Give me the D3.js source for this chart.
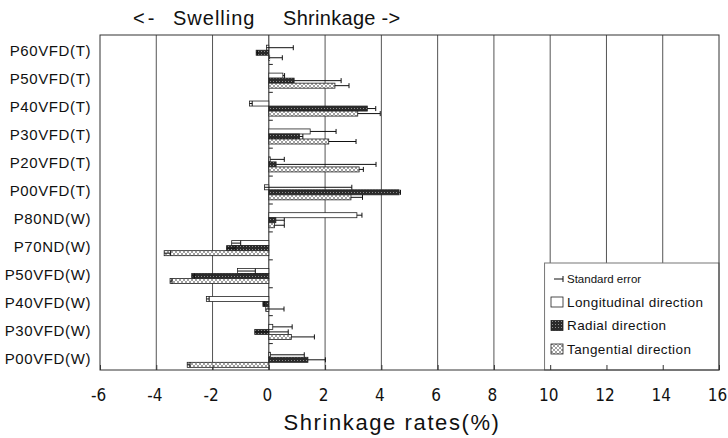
<!DOCTYPE html>
<html>
<head>
<meta charset="utf-8">
<script src="https://cdn.jsdelivr.net/npm/d3@7"></script>
<style>
  body { margin: 0; background: #fff; }
  text { font-family: "Liberation Sans", Arial, sans-serif; fill: #111; }
</style>
</head>
<body>
<div id="chart"></div>
<script>
// data
var categories = ["P60VFD(T)", "P50VFD(T)", "P40VFD(T)", "P30VFD(T)", "P20VFD(T)", "P00VFD(T)",
                  "P80ND(W)", "P70ND(W)", "P50VFD(W)", "P40VFD(W)", "P30VFD(W)", "P00VFD(W)"];
var longitudinal   = [-0.08, 0.50, -0.69, 1.47, 0.05, -0.15, 3.13, -1.32, -1.11, -2.22, 0.14, 0.06];
var longitudinalSE = [0.95, 0.06, 0.10, 0.92, 0.50, 3.10, 0.18, 0.32, 0.63, 0.10, 0.69, 1.20];
var radial         = [-0.45, 0.90, 3.50, 1.09, 0.26, 4.63, 0.25, -1.50, -2.74, -0.21, -0.50, 1.39];
var radialSE       = [0.05, 1.67, 0.30, 0.12, 3.55, 0.05, 0.30, 0.30, 0.10, 0.05, 1.19, 0.62];
var tangential     = [0.03, 2.35, 3.16, 2.13, 3.21, 2.92, 0.20, -3.72, -3.51, -0.11, 0.80, -2.90];
var tangentialSE   = [0.45, 0.50, 0.80, 0.97, 0.15, 0.41, 0.35, 0.23, 0.07, 0.65, 0.82, 0.10];
var xTicks = [-6, -4, -2, 0, 2, 4, 6, 8, 10, 12, 14, 16];
var seriesNames = ["Longitudinal direction", "Radial direction", "Tangential direction"];

var width = 728, height = 438;
var plotLeft = 100, plotRight = 719, plotTop = 35, plotBottom = 370;

var svg = d3.select("#chart").append("svg")
    .attr("width", width)
    .attr("height", height);

// fill patterns for the bars
var defs = svg.append("defs");
var pr = defs.append("pattern").attr("id", "radial")
    .attr("width", 3).attr("height", 3).attr("patternUnits", "userSpaceOnUse");
pr.append("rect").attr("width", 3).attr("height", 3).attr("fill", "#2a2a2a");
pr.append("rect").attr("width", 1).attr("height", 1).attr("fill", "#8c8c8c");
var pt = defs.append("pattern").attr("id", "tangential")
    .attr("width", 4).attr("height", 4).attr("patternUnits", "userSpaceOnUse");
pt.append("rect").attr("width", 4).attr("height", 4).attr("fill", "#fff");
pt.append("path").attr("d", "M0,4 L4,0 M0,0 L4,4").attr("stroke", "#8a8a8a").attr("stroke-width", 0.8);

var fills = ["#fff", "url(#radial)", "url(#tangential)"];

// scales
var x = d3.scaleLinear().domain([-6, 16]).range([plotLeft, plotRight]);
var y = d3.scaleBand().domain(categories).range([plotTop, plotBottom]).padding(0);
var bw = y.bandwidth();
var inner = d3.scaleBand().domain(seriesNames).range([bw * 0.365, bw * 0.905]);

var rows = [];
categories.forEach(function(c, i) {
  rows.push({cat: c, s: seriesNames[0], v: longitudinal[i], se: longitudinalSE[i], f: fills[0]});
  rows.push({cat: c, s: seriesNames[1], v: radial[i], se: radialSE[i], f: fills[1]});
  rows.push({cat: c, s: seriesNames[2], v: tangential[i], se: tangentialSE[i], f: fills[2]});
});

// vertical grid lines (stop above the legend on the right)
var legendX = x(9.8), legendTop = 263;
svg.append("g").selectAll("line")
  .data(xTicks.filter(function(t) { return t > -6 && t < 16; }))
  .enter().append("line")
    .attr("x1", function(d) { return x(d); })
    .attr("x2", function(d) { return x(d); })
    .attr("y1", plotTop)
    .attr("y2", function(d) { return x(d) > legendX ? legendTop : plotBottom; })
    .attr("stroke", function(d) { return d === 0 ? "#222" : "#555"; })
    .attr("stroke-width", 1);

// bars
svg.append("g").selectAll("rect")
  .data(rows)
  .enter().append("rect")
    .attr("x", function(d) { return x(Math.min(0, d.v)); })
    .attr("y", function(d) { return y(d.cat) + inner(d.s); })
    .attr("width", function(d) { return Math.abs(x(d.v) - x(0)); })
    .attr("height", inner.bandwidth())
    .attr("fill", function(d) { return d.f; })
    .attr("stroke", "#222")
    .attr("stroke-width", 0.8);

// error bars, plus direction
var eb = svg.append("g").attr("stroke", "#111").attr("stroke-width", 1);
eb.selectAll(".eline").data(rows).enter().append("line")
    .attr("x1", function(d) { return x(d.v); })
    .attr("x2", function(d) { return x(d.v + d.se); })
    .attr("y1", function(d) { return y(d.cat) + inner(d.s) + inner.bandwidth() / 2; })
    .attr("y2", function(d) { return y(d.cat) + inner(d.s) + inner.bandwidth() / 2; });
eb.selectAll(".ecap").data(rows).enter().append("line")
    .attr("x1", function(d) { return x(d.v + d.se); })
    .attr("x2", function(d) { return x(d.v + d.se); })
    .attr("y1", function(d) { return y(d.cat) + inner(d.s); })
    .attr("y2", function(d) { return y(d.cat) + inner(d.s) + inner.bandwidth(); });

// small zero marks at the top of each group
svg.append("g").selectAll("line")
  .data(categories.slice(1))
  .enter().append("line")
    .attr("x1", x(0)).attr("x2", x(0) + 4)
    .attr("y1", function(d) { return y(d) + 1.5; })
    .attr("y2", function(d) { return y(d) + 1.5; })
    .attr("stroke", "#222");

// legend
var lg = svg.append("g");
lg.append("rect")
    .attr("x", legendX).attr("y", legendTop)
    .attr("width", plotRight - legendX).attr("height", plotBottom - legendTop)
    .attr("fill", "#fff").attr("stroke", "#777").attr("stroke-width", 1);
lg.append("line").attr("x1", 554).attr("x2", 563).attr("y1", 279).attr("y2", 279).attr("stroke", "#111");
lg.append("line").attr("x1", 563).attr("x2", 563).attr("y1", 276).attr("y2", 282).attr("stroke", "#111");
lg.append("text").attr("x", 567).attr("y", 283).style("font-size", "11.5px").text("Standard error");
seriesNames.forEach(function(s, i) {
  var yy = 297 + i * 23.5;
  lg.append("rect").attr("x", 551).attr("y", yy).attr("width", 12).attr("height", 10)
    .attr("fill", fills[i]).attr("stroke", "#222").attr("stroke-width", 0.8);
  lg.append("text").attr("x", 567).attr("y", yy + 9.5)
    .style("font-size", "13.5px").style("letter-spacing", "0.4px").text(s);
});

// plot border
svg.append("rect")
    .attr("x", plotLeft).attr("y", plotTop)
    .attr("width", plotRight - plotLeft).attr("height", plotBottom - plotTop)
    .attr("fill", "none").attr("stroke", "#333").attr("stroke-width", 1);

// x axis: inward ticks
var xAxis = d3.axisBottom(x).tickValues(xTicks).tickSizeInner(-5).tickSizeOuter(0)
    .tickFormat(function(d) { return d; });
var gx = svg.append("g").attr("transform", "translate(0," + plotBottom + ")").call(xAxis);
gx.select(".domain").remove();
gx.selectAll("line").attr("stroke", "#333");
gx.selectAll("text")
    .attr("y", 19).attr("dx", -2)
    .style("font-size", "17px")
    .style("font-family", "'Liberation Sans Narrow', 'DejaVu Sans Condensed', sans-serif")
    .attr("fill", "#111");

// category labels
svg.append("g").selectAll("text")
  .data(categories)
  .enter().append("text")
    .attr("x", 91)
    .attr("y", function(d) { return y(d) + bw / 2 + 7.5; })
    .attr("text-anchor", "end")
    .style("font-size", "15px")
    .style("letter-spacing", "0.6px")
    .text(function(d) { return d; });

// titles
svg.append("text").attr("x", 133).attr("y", 25).style("font-size", "20px").style("letter-spacing", "3px").text("<-");
svg.append("text").attr("x", 173).attr("y", 25).style("font-size", "20px").style("letter-spacing", "1px").text("Swelling");
svg.append("text").attr("x", 283).attr("y", 25).style("font-size", "20px").style("letter-spacing", "0.3px").text("Shrinkage ->");

svg.append("text")
    .attr("x", 392).attr("y", 430)
    .attr("text-anchor", "middle")
    .style("font-size", "22px")
    .style("letter-spacing", "1.6px")
    .text("Shrinkage rates(%)");
</script>
</body>
</html>
